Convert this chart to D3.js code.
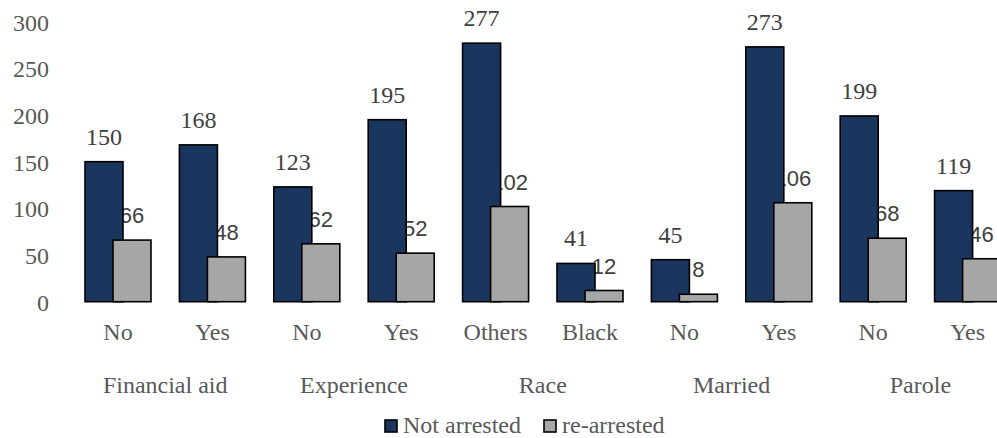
<!DOCTYPE html>
<html><head><meta charset="utf-8">
<script src="https://cdn.jsdelivr.net/npm/d3@7"></script>
<style>body{margin:0;background:#fff;}svg{display:block;}</style>
</head><body>
<svg id="c" width="997" height="438"></svg>
<script>
const categories = ["No","Yes","No","Yes","Others","Black","No","Yes","No","Yes"];
const groups = ["Financial aid","Experience","Race","Married","Parole"];
const notArrested = [150,168,123,195,277,41,45,273,199,119];
const reArrested = [66,48,62,52,102,12,8,106,68,46];
const yTicks = [0,50,100,150,200,250,300];
const seriesNames = ["Not arrested","re-arrested"];
const colors = ["#1A355E","#A6A6A6"];

const svg = d3.select("#c");
const y = d3.scaleLinear().domain([0,300]).range([301.7,21.7]);
const x = d3.scaleBand().domain(d3.range(categories.length)).range([70.8,1014.8]).padding(0);
const cx = i => x(i) + x.bandwidth()/2;
const serif = "'Liberation Serif','Times New Roman',serif";
const sans = "'Liberation Sans',Arial,sans-serif";
const txt = "#595959";

// y axis labels
const yAxis = d3.axisLeft(y).tickValues(yTicks).tickSize(0).tickPadding(0);
const ga = svg.append("g").attr("transform","translate(49,0)").call(yAxis);
ga.select(".domain").remove();
ga.selectAll("text").attr("font-family",serif).attr("font-size",24).attr("fill",txt).attr("dy","0.35em");

// gray value labels (behind bars)
svg.append("g").selectAll("text").data(reArrested).join("text")
  .attr("x",(d,i)=>cx(i)+14).attr("y",d=>y(d)-17)
  .attr("text-anchor","middle").attr("font-family",sans).attr("font-size",22).attr("fill","#404040")
  .text(d=>d);

// navy bars
svg.append("g").selectAll("rect").data(notArrested).join("rect")
  .attr("x",(d,i)=>cx(i)-33).attr("width",38)
  .attr("y",d=>y(d)).attr("height",d=>y(0)-y(d))
  .attr("fill",colors[0]).attr("stroke","#000").attr("stroke-width",1.6);

// gray bars
svg.append("g").selectAll("rect").data(reArrested).join("rect")
  .attr("x",(d,i)=>cx(i)-5).attr("width",38)
  .attr("y",d=>y(d)).attr("height",d=>y(0)-y(d))
  .attr("fill",colors[1]).attr("stroke","#000").attr("stroke-width",1.6);

// navy value labels
svg.append("g").selectAll("text").data(notArrested).join("text")
  .attr("x",(d,i)=>cx(i)-14).attr("y",d=>y(d)-17)
  .attr("text-anchor","middle").attr("font-family",serif).attr("font-size",24).attr("fill","#404040")
  .text(d=>d);

// category labels
svg.append("g").selectAll("text").data(categories).join("text")
  .attr("x",(d,i)=>cx(i)).attr("y",340)
  .attr("text-anchor","middle").attr("font-family",serif).attr("font-size",24).attr("fill",txt)
  .text(d=>d);

// group labels
svg.append("g").selectAll("text").data(groups).join("text")
  .attr("x",(d,i)=>(cx(2*i)+cx(2*i+1))/2).attr("y",393)
  .attr("text-anchor","middle").attr("font-family",serif).attr("font-size",24).attr("fill",txt)
  .text(d=>d);

// legend
const legX = [385,544];
const lg = svg.append("g");
seriesNames.forEach((n,i)=>{
  lg.append("rect").attr("x",legX[i]).attr("y",420).attr("width",12).attr("height",12)
    .attr("fill",colors[i]).attr("stroke","#000").attr("stroke-width",1.6);
  lg.append("text").attr("x",legX[i]+18).attr("y",432.5)
    .attr("font-family",serif).attr("font-size",24).attr("fill",txt).text(n);
});
</script>
</body></html>
